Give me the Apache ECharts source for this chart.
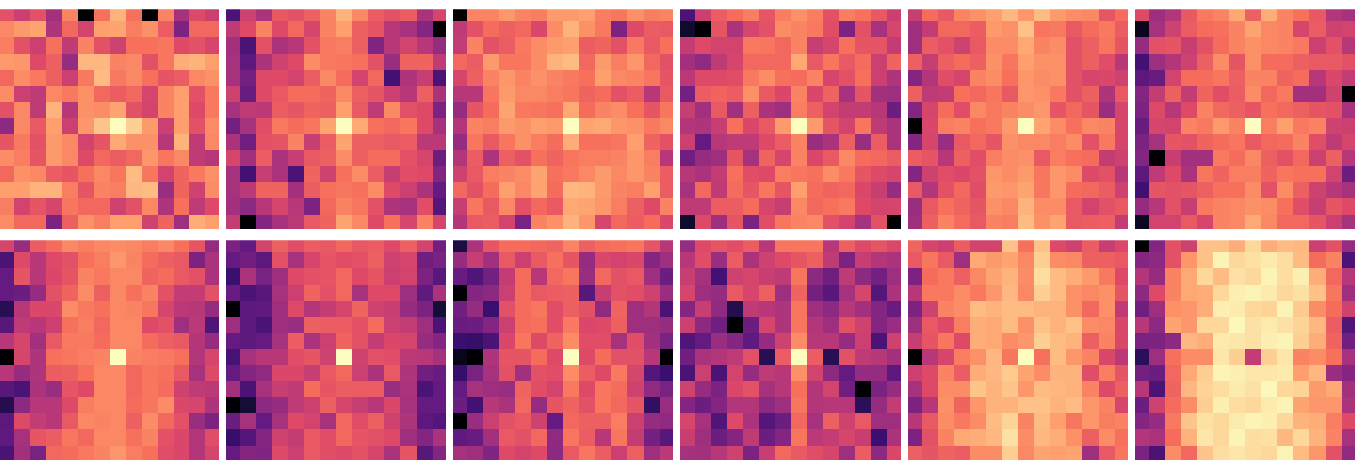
<!DOCTYPE html>
<html>
<head>
<meta charset="utf-8">
<style>html,body{margin:0;padding:0;background:#fff}#chart{width:1370px;height:464px}</style>
<script src="https://cdn.jsdelivr.net/npm/echarts@6/dist/echarts.min.js"></script>
</head>
<body>
<div id="chart"></div>
<script>
var panel1 = [
  [62,55,62,45,74,0,70,84,70,0,74,46,60,55],
  [75,79,81,48,68,57,80,81,73,77,65,36,68,68],
  [73,62,55,70,52,74,62,56,70,70,71,60,62,58],
  [79,78,60,66,42,85,85,74,75,62,71,83,84,80],
  [68,76,72,66,55,72,86,72,75,70,63,65,75,77],
  [76,55,52,75,72,77,68,65,68,58,74,80,62,72],
  [62,75,52,84,50,77,76,81,62,57,74,80,60,72],
  [40,75,64,80,55,78,88,100,90,79,55,80,62,76],
  [63,72,62,79,75,57,63,82,77,77,50,84,52,75],
  [76,73,63,79,75,60,68,65,68,78,71,75,52,50],
  [68,77,75,65,63,70,75,71,86,71,57,67,72,77],
  [80,80,84,84,73,63,74,73,85,86,43,67,56,76],
  [73,57,63,58,71,68,68,56,62,75,48,70,52,60],
  [76,68,68,36,66,77,73,80,80,56,67,44,83,80]
];
var panel2 = [
  [24,56,47,64,62,66,74,84,75,65,62,65,47,58],
  [52,60,74,60,68,58,74,80,66,63,50,46,38,0],
  [45,24,62,47,50,62,72,73,66,37,50,57,50,42],
  [46,28,47,56,60,76,72,71,70,62,43,67,67,52],
  [46,34,60,60,57,65,75,69,57,68,22,48,54,24],
  [56,31,60,64,69,69,67,75,66,63,55,50,66,47],
  [46,52,51,65,63,67,66,80,64,52,75,62,60,36],
  [34,46,61,72,69,71,81,100,82,70,68,71,60,46],
  [47,33,62,63,74,54,65,81,66,66,64,65,51,51],
  [58,45,65,47,54,64,66,76,66,69,69,62,58,32],
  [46,22,54,47,24,67,56,70,76,65,54,61,60,37],
  [46,51,67,67,45,65,70,71,70,76,60,55,47,30],
  [45,40,50,58,50,36,68,74,71,62,48,46,61,26],
  [53,0,38,46,51,64,67,81,75,60,70,58,74,58]
];
var panel3 = [
  [0,74,74,78,74,73,79,79,80,73,71,77,73,74],
  [52,62,69,66,68,59,76,84,77,72,36,60,65,64],
  [53,74,62,65,72,76,79,80,65,67,62,72,64,70],
  [68,65,79,71,71,76,84,86,68,79,73,78,68,62],
  [58,66,74,78,74,77,74,72,70,80,75,74,71,63],
  [50,50,71,79,75,75,73,71,67,69,62,65,50,64],
  [42,63,69,81,72,71,70,82,69,74,76,70,63,71],
  [49,74,73,79,77,80,79,100,81,82,78,77,72,75],
  [42,71,64,71,77,73,69,83,70,70,71,80,67,62],
  [49,65,48,66,62,70,67,71,73,73,74,78,73,50],
  [56,64,73,74,76,81,70,72,75,79,75,78,74,65],
  [68,62,69,80,75,81,69,85,84,79,74,73,80,65],
  [54,71,64,75,62,68,64,82,81,78,73,66,60,74],
  [49,64,65,57,35,74,77,84,78,58,68,65,69,59]
];
var panel4 = [
  [24,55,65,69,73,63,73,77,73,62,73,70,64,55],
  [8,0,63,47,58,62,76,74,72,61,36,62,46,58],
  [53,60,57,57,72,71,68,74,54,58,70,63,63,53],
  [45,41,52,58,68,68,68,82,64,71,64,69,55,67],
  [51,60,60,61,72,76,70,69,74,58,62,70,55,48],
  [34,65,67,65,77,64,59,74,59,67,46,63,45,44],
  [54,45,64,45,66,47,44,73,66,57,53,53,50,32],
  [49,48,54,70,59,64,79,100,79,63,57,71,52,47],
  [55,30,50,52,52,60,65,74,43,47,66,43,65,47],
  [33,42,44,63,46,67,58,74,59,64,75,69,68,65],
  [50,47,53,70,61,60,73,71,70,76,72,63,60,58],
  [46,68,52,69,63,71,63,80,69,67,68,59,54,42],
  [52,52,65,65,69,58,54,75,68,70,72,60,57,58],
  [8,60,44,63,36,61,71,74,75,62,57,46,62,0]
];
var panel5 = [
  [54,69,64,74,77,80,85,78,86,79,76,75,63,69],
  [44,53,68,68,65,79,77,87,71,72,64,69,72,65],
  [44,65,62,56,64,76,76,82,74,76,62,66,71,63],
  [66,54,66,69,66,77,71,80,77,77,62,66,61,50],
  [38,49,61,58,74,76,70,78,76,77,62,58,59,56],
  [66,52,53,70,68,71,64,78,77,72,62,66,48,64],
  [38,58,69,61,75,72,74,76,78,63,68,63,43,58],
  [0,59,73,74,70,72,79,100,81,76,70,75,74,58],
  [38,58,43,64,68,63,77,75,75,73,76,62,72,58],
  [65,63,50,66,61,73,76,77,64,73,70,69,53,56],
  [38,56,61,59,62,78,76,79,71,78,76,60,62,50],
  [64,49,62,68,61,79,78,81,71,78,69,68,65,56],
  [43,64,70,67,63,77,75,84,76,76,64,57,62,64],
  [44,66,74,69,64,74,73,86,77,81,64,65,66,53]
];
var panel6 = [
  [60,44,49,64,72,74,82,66,83,74,70,64,49,46],
  [5,46,56,65,69,70,74,81,75,74,58,65,56,57],
  [42,62,63,54,62,69,74,77,75,74,72,55,62,50],
  [22,44,49,56,66,76,63,77,69,69,66,64,64,62],
  [28,31,57,69,69,71,66,74,74,67,69,50,59,53],
  [38,53,66,53,67,61,65,76,68,72,45,45,56,0],
  [36,60,50,60,74,68,66,63,70,68,66,63,62,46],
  [31,58,57,74,72,79,74,100,73,80,72,74,56,55],
  [36,46,63,62,67,69,71,64,68,69,74,61,52,58],
  [38,0,54,45,45,72,69,75,66,62,68,55,66,50],
  [28,52,60,47,71,67,73,73,67,71,70,70,57,32],
  [21,63,62,63,66,70,70,76,62,76,66,56,50,46],
  [42,50,62,54,72,74,75,77,76,70,61,54,63,60],
  [6,57,57,64,58,74,75,82,75,68,68,63,55,46]
];
var panel7 = [
  [58,42,65,69,75,73,75,76,75,73,75,70,63,42],
  [24,60,50,60,62,70,73,78,74,69,66,64,36,47],
  [30,63,50,59,63,74,72,75,75,67,69,64,62,47],
  [30,32,42,62,67,76,66,75,70,74,62,53,53,62],
  [15,50,59,59,76,72,70,75,74,71,58,51,50,42],
  [27,52,50,55,70,73,68,75,75,60,62,44,51,25],
  [50,58,45,64,72,72,69,75,75,69,66,64,49,42],
  [0,58,48,70,71,73,74,100,74,73,72,70,49,58],
  [50,42,48,65,66,70,75,75,68,71,70,64,46,60],
  [27,24,47,43,63,60,75,75,68,71,69,56,52,51],
  [14,40,50,50,60,73,75,75,69,71,76,59,58,48],
  [28,60,53,50,64,75,74,75,66,76,68,62,43,36],
  [29,46,63,65,71,68,75,75,70,74,62,59,49,61],
  [24,45,35,68,69,72,74,78,73,70,61,59,49,58]
];
var panel8 = [
  [36,30,57,66,61,65,64,68,64,65,60,66,57,33],
  [30,33,28,62,46,58,63,61,62,66,56,58,33,35],
  [20,47,35,44,60,62,63,68,60,63,55,57,36,27],
  [31,24,27,46,55,67,62,68,46,60,60,44,29,47],
  [0,28,29,44,60,49,53,58,67,56,54,42,36,10],
  [44,28,24,44,43,66,65,65,62,69,55,53,44,24],
  [30,28,30,46,65,47,55,67,62,53,59,58,42,38],
  [23,46,50,50,61,63,56,100,56,62,61,51,50,46],
  [30,38,41,59,59,54,64,68,55,47,64,48,33,31],
  [45,24,46,54,52,69,63,65,65,65,43,47,24,30],
  [0,10,40,42,52,55,66,58,54,50,59,46,30,30],
  [32,46,30,46,60,57,46,68,61,66,56,48,28,26],
  [19,26,38,56,53,64,61,68,63,62,60,44,38,47],
  [30,38,37,60,55,64,61,60,62,58,47,63,27,38]
];
var panel9 = [
  [12,47,63,69,69,68,67,74,66,69,70,71,63,50],
  [42,54,45,64,55,64,70,63,42,59,57,59,38,44],
  [31,25,34,53,69,50,68,71,43,68,62,64,44,32],
  [0,38,40,55,69,64,65,66,27,54,62,61,56,43],
  [33,42,20,62,69,71,61,66,62,41,67,44,49,24],
  [31,32,38,55,69,70,61,72,59,60,66,44,44,42],
  [20,19,24,59,71,60,67,76,61,61,46,61,45,35],
  [4,0,48,63,63,69,60,100,60,69,62,62,50,0],
  [19,35,46,62,45,62,61,76,65,60,72,58,26,20],
  [30,46,44,43,67,61,57,72,60,71,69,56,41,35],
  [32,22,50,47,68,42,63,67,62,71,68,63,18,43],
  [0,43,55,62,64,56,30,68,66,66,73,55,42,41],
  [29,31,45,64,62,68,41,71,65,50,71,53,34,27],
  [46,44,37,60,57,60,40,64,71,65,55,66,44,51]
];
var panel10 = [
  [42,60,63,61,65,50,71,71,71,50,66,60,63,59],
  [50,61,43,65,47,56,60,63,66,52,36,54,49,47],
  [54,46,22,56,58,54,52,71,40,33,52,40,34,44],
  [58,44,42,64,58,66,44,67,34,27,46,58,26,47],
  [38,54,41,14,52,50,48,71,44,40,50,45,38,31],
  [55,40,33,0,32,58,48,71,49,44,62,56,38,43],
  [25,30,43,38,29,42,56,76,50,50,42,55,24,56],
  [33,47,49,52,62,15,65,100,65,15,62,52,50,45],
  [24,55,24,57,42,52,50,77,57,40,30,42,42,28],
  [56,42,36,59,62,46,50,70,49,57,33,0,36,42],
  [38,32,38,49,49,40,44,71,49,50,50,16,42,53],
  [58,46,25,60,47,26,32,68,46,66,56,64,44,44],
  [54,44,32,38,52,32,38,71,51,53,58,54,20,47],
  [46,45,50,56,36,54,68,64,61,58,44,65,40,59]
];
var panel11 = [
  [67,58,55,65,57,57,87,70,87,60,56,65,54,59],
  [64,71,64,44,82,79,81,75,90,76,75,66,66,64],
  [36,69,72,66,75,81,84,76,93,86,83,79,72,60],
  [50,72,72,76,72,78,85,75,90,86,77,75,77,63],
  [36,56,74,76,86,84,86,86,84,84,77,68,77,52],
  [44,64,60,73,83,82,86,77,87,84,87,76,75,59],
  [54,63,71,60,83,82,76,78,90,86,84,66,74,59],
  [0,50,58,73,77,85,71,100,70,86,78,74,59,51],
  [55,60,74,65,83,85,89,81,76,84,84,61,73,63],
  [46,60,76,76,88,84,88,78,86,85,84,74,60,66],
  [36,50,77,67,78,84,84,87,87,84,86,78,74,58],
  [50,64,76,72,76,86,91,74,86,80,71,78,73,74],
  [36,62,74,82,83,85,94,76,85,83,77,66,76,70],
  [66,63,67,65,76,76,90,75,81,80,81,44,64,71]
];
var panel12 = [
  [0,38,62,56,87,87,83,92,83,86,85,55,62,42],
  [38,40,62,78,87,98,92,94,96,93,86,69,74,24],
  [49,42,74,82,92,86,94,92,98,93,97,83,68,50],
  [40,60,74,82,83,92,97,98,96,92,94,87,71,44],
  [33,44,77,78,83,97,96,92,91,98,89,76,69,56],
  [50,40,81,78,92,92,99,94,96,94,91,85,65,25],
  [35,36,40,85,83,96,95,94,97,98,90,83,67,33],
  [16,44,70,76,76,95,90,53,90,95,74,76,70,46],
  [34,32,68,82,90,98,97,95,95,96,80,85,43,38],
  [50,24,67,85,91,93,96,94,99,92,91,79,82,45],
  [32,56,69,76,90,97,93,92,96,98,81,78,78,47],
  [38,42,72,88,94,92,96,98,97,92,84,83,73,60],
  [49,47,69,84,95,92,98,93,94,85,92,84,74,46],
  [36,24,76,68,88,93,95,93,92,98,86,78,62,41]
];
var panels = [panel1, panel2, panel3, panel4, panel5, panel6,
              panel7, panel8, panel9, panel10, panel11, panel12];
var magma = ['#000004', '#140e36', '#3b0f70', '#641a80', '#8c2981', '#b73779',
             '#de4968', '#f7705c', '#fe9f6d', '#fecf92', '#fcfdbf'];

var cols = 6, panelW = 219.5, panelH = 219.6;
var lefts = [-1.2, 226, 453, 680.5, 908, 1135];
var tops = [9.3, 240.3];

function drawCell(params, api) {
  // one cell of the image, whole pixels so no seams show between cells
  var a = api.coord([api.value(0) - 0.5, api.value(1) - 0.5]);
  var b = api.coord([api.value(0) + 0.5, api.value(1) + 0.5]);
  var x0 = Math.round(a[0]), y0 = Math.round(a[1]);
  return {
    type: 'rect',
    shape: { x: x0, y: y0, width: Math.round(b[0]) - x0, height: Math.round(b[1]) - y0 },
    style: { fill: api.visual('color') }
  };
}

var grids = [], xAxes = [], yAxes = [], series = [];
panels.forEach(function (rows, k) {
  var data = [];
  rows.forEach(function (row, y) {
    row.forEach(function (v, x) { data.push([x, y, v]); });
  });
  grids.push({
    left: lefts[k % cols],
    top: tops[Math.floor(k / cols)],
    width: panelW,
    height: panelH
  });
  // the edge cells are cut a little, same as in the picture
  xAxes.push({ type: 'value', gridIndex: k, min: -0.39, max: 13.31, show: false });
  yAxes.push({ type: 'value', gridIndex: k, min: -0.25, max: 13.39, inverse: true, show: false });
  series.push({
    type: 'custom',
    xAxisIndex: k,
    yAxisIndex: k,
    clip: true,
    silent: true,
    animation: false,
    encode: { x: 0, y: 1 },
    renderItem: drawCell,
    data: data
  });
});

var myChart = echarts.init(document.getElementById('chart'), null, { renderer: 'canvas' });
myChart.setOption({
  backgroundColor: '#fff',
  animation: false,
  grid: grids,
  xAxis: xAxes,
  yAxis: yAxes,
  visualMap: {
    show: false,
    type: 'continuous',
    min: 0,
    max: 100,
    dimension: 2,
    inRange: { color: magma }
  },
  series: series
});
</script>
</body>
</html>
